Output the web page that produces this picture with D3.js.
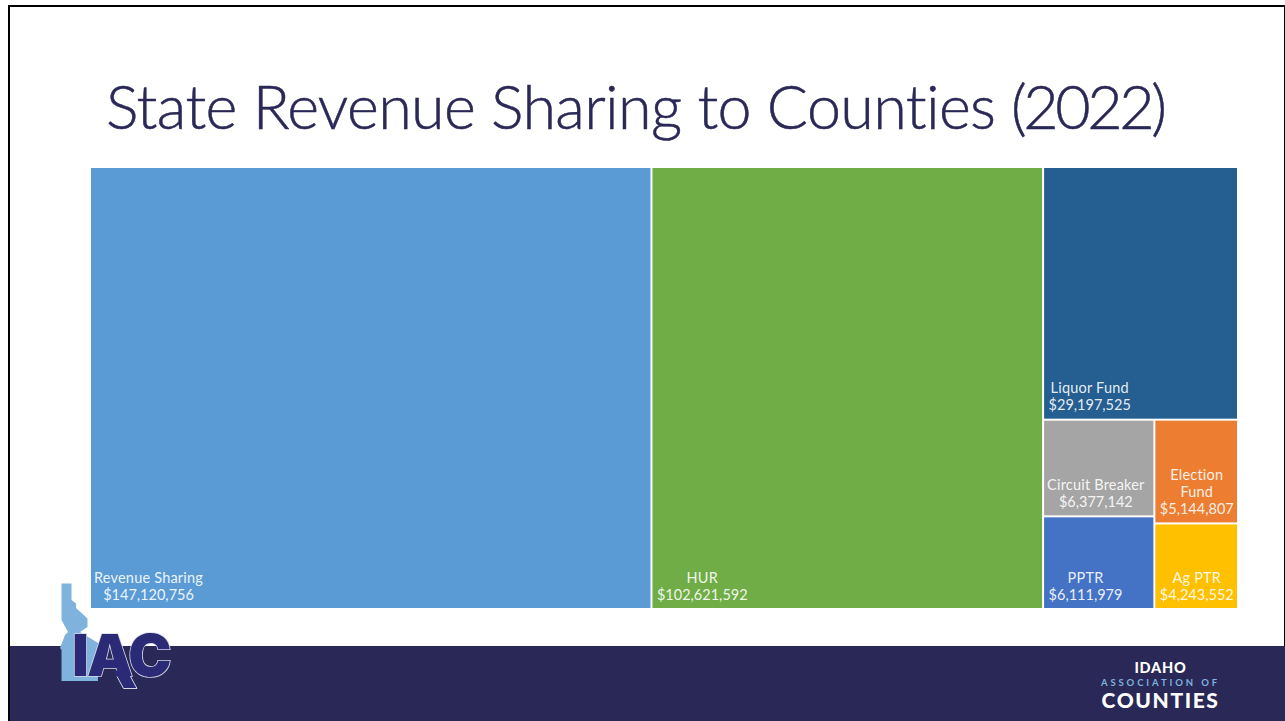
<!DOCTYPE html>
<html><head><meta charset="utf-8">
<script src="https://cdn.jsdelivr.net/npm/d3@7/dist/d3.min.js"></script>
<style>html,body{margin:0;padding:0;background:#fff;overflow:hidden}svg{display:block}text{font-variant-ligatures:none}</style>
</head><body><svg id="c" width="1285" height="721"></svg>
<script>
const titleMain = "State Revenue Sharing to Counties";
const titleYear = "(2022)";
const categories = ["Revenue Sharing","HUR","Liquor Fund","Circuit Breaker","PPTR","Election Fund","Ag PTR"];
const values = [147120756,102621592,29197525,6377142,6111979,5144807,4243552];
const colors = ["#5b9bd5","#70ad47","#255e91","#a5a5a5","#4472c4","#ed7d31","#ffc000"];
const FONT = "Lato, 'Open Sans', sans-serif";
const NAVY = "#2a2856";

const svg = d3.select("#c");
svg.append("rect").attr("x",9).attr("y",6).attr("width",1276).attr("height",715)
  .attr("fill","#fff").attr("stroke","#000").attr("stroke-width",2);
svg.append("rect").attr("x",10).attr("y",646).attr("width",1275).attr("height",75).attr("fill",NAVY);

const titleG = svg.append("g").attr("fill",NAVY).attr("stroke",NAVY).attr("stroke-width",.5)
  .attr("font-family",FONT).attr("font-weight",300).attr("font-size",61);
titleG.append("text").attr("x",106).attr("y",129).attr("textLength",890).attr("lengthAdjust","spacing").text(titleMain);
titleG.append("text").attr("x",1011).attr("y",129).attr("textLength",156).attr("lengthAdjust","spacing").text(titleYear);

const root = d3.hierarchy({children: categories.map((name,i)=>({name,value:values[i],color:colors[i]}))})
  .sum(d=>d.value||0).sort((a,b)=>b.value-a.value);
d3.treemap().tile(d3.treemapSquarify).size([1146,440]).paddingInner(2)(root);

const fmt = d3.format("$,");
const plot = svg.append("g").attr("transform","translate(91,168)");
const cell = plot.selectAll("g").data(root.leaves()).join("g");
cell.append("rect").attr("x",d=>d.x0).attr("y",d=>d.y0)
  .attr("width",d=>d.x1-d.x0).attr("height",d=>d.y1-d.y0).attr("fill",d=>d.data.color);

cell.each(function(d){
  const g = d3.select(this);
  const w = d.x1-d.x0;
  const words = d.data.name.split(" ");
  const probe = g.append("text").attr("font-family",FONT).attr("font-size",14.5);
  const measure = s => { probe.text(s); return probe.node().getComputedTextLength(); };
  const valueText = fmt(d.data.value);
  let lines = [d.data.name];
  if (measure(d.data.name) > w-8) lines = words;
  lines = lines.concat([valueText]);
  const widest = d3.max(lines, measure);
  probe.remove();
  const cx = d.x0 + 4.5 + widest/2;
  lines.forEach((ln,i)=>{
    g.append("text").attr("x",cx).attr("y",d.y1-8.5-(lines.length-1-i)*17)
      .attr("text-anchor","middle").attr("fill","#fff").attr("fill-opacity",.9)
      .attr("font-family",FONT).attr("font-size",14.5)
      .attr("letter-spacing", i===lines.length-1 ? 0 : .2).text(ln);
  });
});

// IAC logo
const logo = svg.append("g");
logo.append("path").attr("fill","#7fb2dc")
  .attr("d","M61.5 583.5H71.5V600L76 603.5V608L87.5 618.5V627L80 632L98 643V681H61.5V650L60 648L65 635L68 632L61.5 620Z");
logo.append("text").attr("x",72).attr("y",676).attr("font-family","Inter, 'Liberation Sans', sans-serif").attr("font-weight",900)
  .attr("font-size",58).attr("letter-spacing",-2).attr("fill","#2a2a76").attr("stroke","#d5d9e6").attr("stroke-width",1.6)
  .attr("paint-order","stroke").text("IAC");
logo.append("path").attr("fill","#2a2a76").attr("d","M113 670.5H127L137 688.5H123.5Z");
logo.append("path").attr("fill","none").attr("stroke","#d5d9e6").attr("stroke-width",1)
  .attr("d","M130.5 676.5L137 688.5H123.5L117 676.5");

// footer wordmark
const mark = svg.append("g").attr("text-anchor","middle").attr("font-family",FONT);
mark.append("text").attr("x",1160.5).attr("y",673).attr("fill","#fff").attr("font-weight",900).attr("font-size",14.5).attr("letter-spacing",.8).text("IDAHO");
mark.append("text").attr("x",1160.5).attr("y",685.5).attr("fill","#7fb2dc").attr("font-weight",700).attr("font-size",9.5).attr("letter-spacing",2.9).text("ASSOCIATION OF");
mark.append("text").attr("x",1160.5).attr("y",707.5).attr("fill","#fff").attr("font-weight",900).attr("font-size",21).attr("letter-spacing",1.6).text("COUNTIES");
</script></body></html>
